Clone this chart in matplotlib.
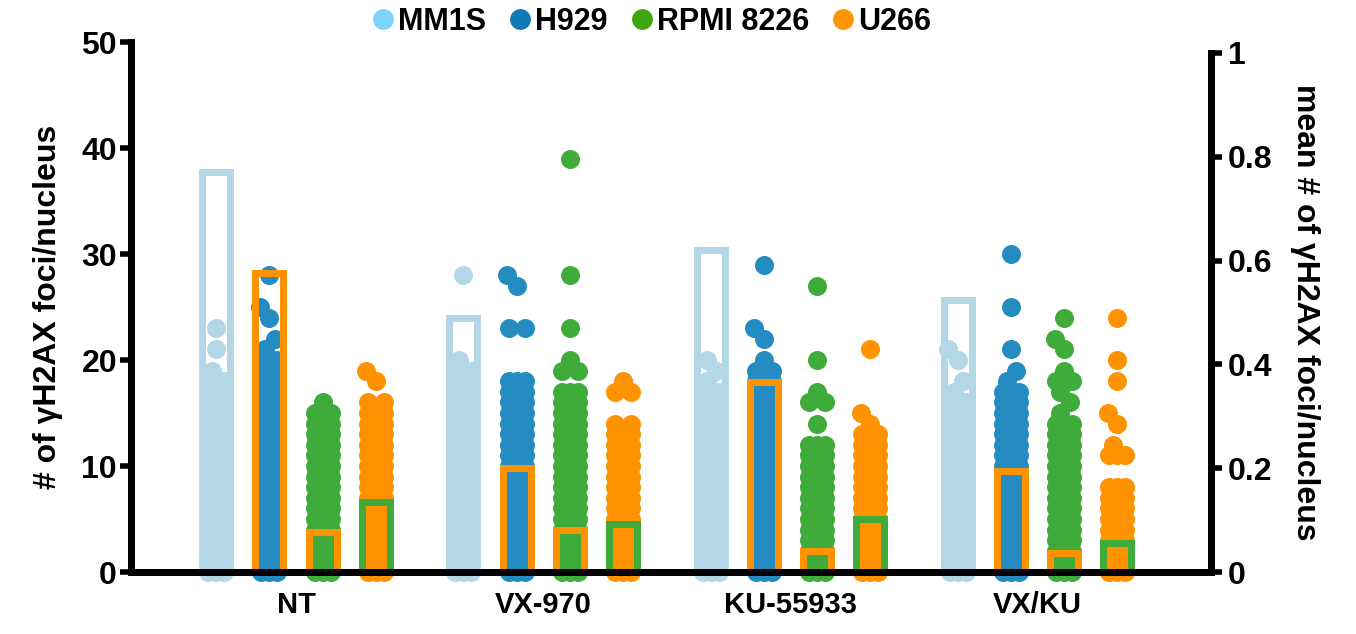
import numpy as np
import matplotlib
matplotlib.use("Agg")
import matplotlib.pyplot as plt
from matplotlib.lines import Line2D

plt.rcParams['font.family'] = ['Liberation Sans', 'DejaVu Sans']
plt.rcParams['font.weight'] = 'bold'

treatments = ["NT", "VX-970", "KU-55933", "VX/KU"]
cell_lines = ["MM1S", "H929", "RPMI 8226", "U266"]

# Nuclei per foci count (list index = number of γH2AX foci), one list per treatment
mm1s_counts = [
    [3, 3, 3, 3, 3, 3, 3, 3, 3, 3, 3, 3, 3, 3, 3, 3, 3, 3, 3, 1, 0, 1, 0, 1],
    [3, 3, 3, 3, 3, 3, 3, 3, 3, 3, 3, 3, 3, 3, 3, 3, 3, 3, 3, 3, 1, 0, 0, 0, 0, 0, 0, 0, 1],
    [3, 3, 3, 3, 3, 3, 3, 3, 3, 3, 3, 3, 3, 3, 3, 3, 3, 3, 1, 1, 1],
    [3, 3, 3, 3, 3, 3, 3, 3, 3, 3, 3, 3, 3, 3, 3, 3, 3, 1, 1, 0, 1, 1],
]
h929_counts = [
    [3, 3, 3, 3, 3, 3, 3, 3, 3, 3, 3, 3, 3, 3, 3, 3, 3, 3, 3, 3, 3, 1, 1, 0, 1, 1, 0, 0, 1],
    [3, 3, 3, 3, 3, 3, 3, 3, 3, 3, 3, 3, 3, 3, 3, 3, 3, 3, 3, 0, 0, 0, 0, 2, 0, 0, 0, 1, 1],
    [3, 3, 3, 3, 3, 3, 3, 3, 3, 3, 3, 3, 3, 3, 3, 3, 3, 3, 3, 2, 1, 0, 1, 1, 0, 0, 0, 0, 0, 1],
    [3, 3, 3, 3, 3, 3, 3, 3, 3, 3, 3, 3, 3, 3, 3, 3, 3, 3, 1, 1, 0, 1, 0, 0, 0, 1, 0, 0, 0, 0, 1],
]
rpmi_counts = [
    [3, 3, 3, 3, 3, 3, 3, 3, 3, 3, 3, 3, 3, 3, 3, 2, 1],
    [3, 3, 3, 3, 3, 3, 3, 3, 3, 3, 3, 3, 3, 3, 3, 3, 3, 3, 0, 2,
     1, 0, 0, 1, 0, 0, 0, 0, 1, 0, 0, 0, 0, 0, 0, 0, 0, 0, 0, 1],
    [3, 3, 3, 3, 3, 3, 3, 3, 3, 3, 3, 3, 3, 0, 1, 0, 2, 1, 0, 0, 1, 0, 0, 0, 0, 0, 0, 1],
    [3, 3, 3, 3, 3, 3, 3, 3, 3, 3, 3, 3, 3, 3, 3, 1, 1, 1, 2, 1, 0, 1, 1, 0, 1],
]
u266_counts = [
    [3, 3, 3, 3, 3, 3, 3, 3, 3, 3, 3, 3, 3, 3, 3, 2, 2, 0, 1, 1],
    [3, 3, 3, 3, 3, 3, 3, 3, 3, 3, 3, 3, 3, 2, 2, 0, 0, 2, 1],
    [3, 3, 3, 3, 3, 3, 3, 3, 3, 3, 3, 3, 2, 2, 1, 1, 0, 0, 0, 0, 0, 1],
    [3, 3, 3, 3, 3, 3, 3, 3, 3, 0, 0, 3, 1, 0, 1, 1, 0, 0, 1, 0, 1, 0, 0, 0, 1],
]

# Mean foci per nucleus (right axis)
mean_mm1s = [0.771, 0.490, 0.620, 0.525]
mean_h929 = [0.577, 0.201, 0.366, 0.195]
mean_rpmi = [0.078, 0.081, 0.040, 0.036]
mean_u266 = [0.135, 0.092, 0.102, 0.055]

all_counts = [mm1s_counts, h929_counts, rpmi_counts, u266_counts]
all_means = [mean_mm1s, mean_h929, mean_rpmi, mean_u266]

dot_colors = ["#b4d7e8", "#258cc1", "#3eab3b", "#ff9200"]
bar_edges = ["#b4d7e8", "#ff9200", "#ff9200", "#3eab3b"]
legend_colors = ["#7fd3fb", "#0f7bb2", "#3fa60e", "#ff9600"]

W, H, DPI = 13.56, 6.34, 100
fig = plt.figure(figsize=(W, H), dpi=DPI)
ax = fig.add_axes([131 / 1356, 62 / 634, 1080 / 1356, 530 / 634])
ax2 = ax.twinx()

x_lo, x_hi = -0.6675, 3.7015
ax.set_xlim(x_lo, x_hi)
ax.set_ylim(0, 50)
ax2.set_ylim(0, 530 / 519)

group_x = np.arange(len(treatments))
col_offsets = np.array([-0.3228, -0.1076, 0.1076, 0.3228])

ppx = ax.bbox.width / (x_hi - x_lo)
ppy = ax.bbox.height / 50.0

marker_px = 19.0
collide_px = 14.0
half_px = 9.5
spread_px = 8.0


def column_offsets(counts):
    """Horizontal pixel offsets for one column of points, placed bottom-up.
    Tied values are spread side by side; lone values dodge their neighbours."""
    cands = sorted(np.arange(-half_px, half_px + 0.01, 0.5), key=lambda c: (abs(c), c))
    placed, vals, offs = [], [], []
    for v, n in enumerate(counts):
        if n == 0:
            continue
        y = v * ppy
        if n > 1:
            row = np.linspace(-spread_px, spread_px, n) if n == 2 else \
                np.linspace(-spread_px, spread_px, n)
            for c in row:
                placed.append((c, y))
                vals.append(v)
                offs.append(c)
            continue
        near = [(px, py) for px, py in placed if abs(py - y) < collide_px]
        best, best_d = 0.0, -1.0
        for c in cands:
            d = min((np.hypot(c - px, y - py) for px, py in near), default=np.inf)
            if d >= collide_px:
                best = c
                break
            if d > best_d:
                best_d, best = d, c
        placed.append((best, y))
        vals.append(v)
        offs.append(best)
    return np.array(vals, float), np.array(offs)


for li, counts_by_treat in enumerate(all_counts):
    for ti, counts in enumerate(counts_by_treat):
        vals, offs = column_offsets(counts)
        xc = group_x[ti] + col_offsets[li]
        ax.plot(xc + offs / ppx, vals, 'o', ms=marker_px * 72 / DPI,
                mec='none', color=dot_colors[li], clip_on=False, zorder=2)

bar_w = 28 / ppx
for li, means in enumerate(all_means):
    ax2.bar(group_x + col_offsets[li], means, width=bar_w, fill=False,
            edgecolor=bar_edges[li], linewidth=5.04, zorder=2)

# Axes styling
lw = 5.04
for s in ["top", "right", "bottom"]:
    ax.spines[s].set_visible(False)
ax.spines["left"].set_linewidth(lw)
for s in ["top", "left"]:
    ax2.spines[s].set_visible(False)
ax2.spines["right"].set_linewidth(lw)
ax2.spines["right"].set_bounds(0, 1)
ax2.spines["bottom"].set_linewidth(lw)
ax2.spines["bottom"].set_zorder(5)

ax.set_yticks([0, 10, 20, 30, 40, 50])
ax.tick_params(axis='y', direction='out', length=8, width=4, labelsize=23, pad=2)
ax2.set_yticks([0, 0.2, 0.4, 0.6, 0.8, 1.0])
ax2.set_yticklabels(["0", "0.2", "0.4", "0.6", "0.8", "1"])
ax2.tick_params(axis='y', direction='out', length=8, width=4, labelsize=23, pad=4)

ax.set_xticks(group_x)
ax.set_xticklabels(treatments)
ax.tick_params(axis='x', length=0, labelsize=21, pad=14)

ax.set_ylabel("# of γH2AX foci/nucleus", fontsize=23, fontweight='bold',
              rotation=90, ha='center', va='center', rotation_mode='default')
ax.yaxis.set_label_coords((48 - 131) / 1080, (572 - 307) / 530)
ax2.set_ylabel("mean # of γH2AX foci/nucleus", fontsize=23, fontweight='bold',
               rotation=270, ha='center', va='center', rotation_mode='default')
ax2.yaxis.set_label_coords((1305 - 131) / 1080, (572 - 312) / 530)

handles = [Line2D([], [], marker='o', ls='', color=c, mec='none', markersize=15)
           for c in legend_colors]
fig.legend(handles, cell_lines, loc='center', bbox_to_anchor=(651 / 1356, 1 - 22 / 634),
           ncol=4, frameon=False, handlelength=0.8, handletextpad=0.1,
           columnspacing=0.7, prop={'size': 22, 'weight': 'bold'},
           borderaxespad=0, borderpad=0)

fig.savefig("out.png", dpi=DPI)
